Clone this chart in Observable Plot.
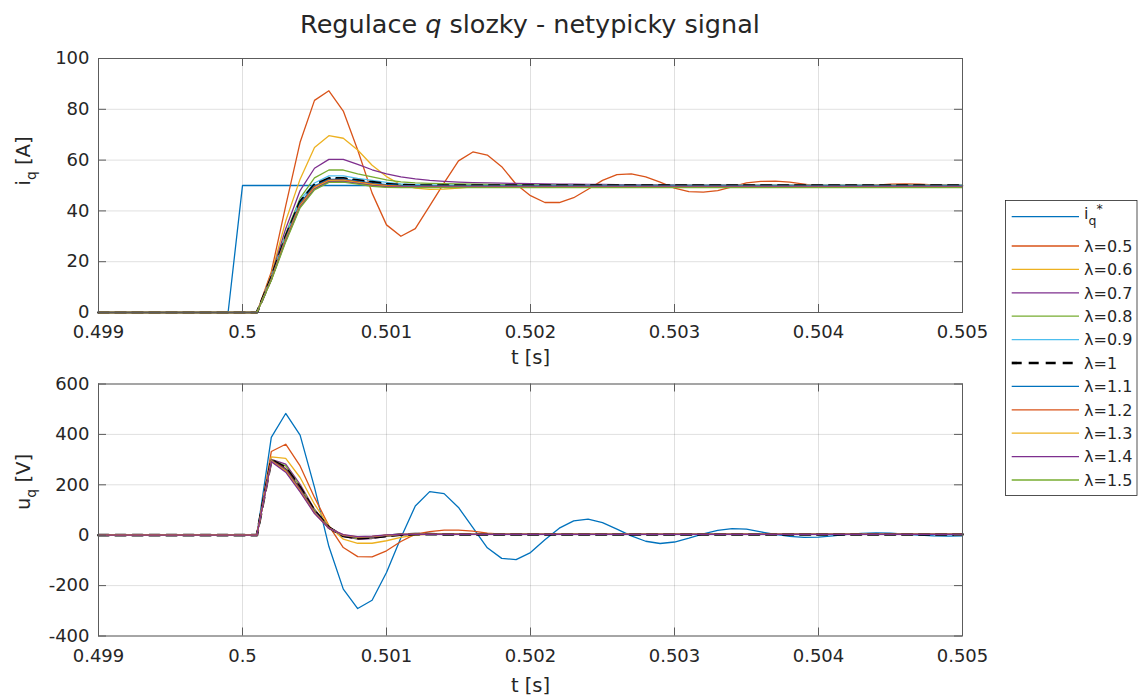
<!DOCTYPE html>
<html><head><meta charset="utf-8">
<script src="https://cdn.jsdelivr.net/npm/d3@7"></script>
<script src="https://cdn.jsdelivr.net/npm/@observablehq/plot@0.6"></script>
<style>
html,body{margin:0;padding:0;background:#fff;}
#wrap{position:relative;width:1141px;height:698px;font-family:"DejaVu Sans",sans-serif;color:#262626;overflow:hidden;}
#title{position:absolute;left:0;width:1060px;top:8px;text-align:center;font-size:25.5px;line-height:32px;white-space:nowrap;}
#top{position:absolute;left:0;top:40px;}
#bot{position:absolute;left:0;top:370px;}
#legend{position:absolute;left:1005px;top:200px;}
</style></head><body>
<div id="wrap">
<div id="title">Regulace <i>q</i> slozky - netypicky signal</div>
<div id="top"></div>
<div id="bot"></div>
<svg id="legend" width="133" height="297"></svg>
</div>
<script>
// ---- time samples [s] ----
const t = [0.499, 0.4999,
  0.5000, 0.5001, 0.5002, 0.5003, 0.5004, 0.5005, 0.5006, 0.5007, 0.5008, 0.5009,
  0.5010, 0.5011, 0.5012, 0.5013, 0.5014, 0.5015, 0.5016, 0.5017, 0.5018, 0.5019,
  0.5020, 0.5021, 0.5022, 0.5023, 0.5024, 0.5025, 0.5026, 0.5027, 0.5028, 0.5029,
  0.5030, 0.5031, 0.5032, 0.5033, 0.5034, 0.5035, 0.5036, 0.5037, 0.5038, 0.5039,
  0.5040, 0.5041, 0.5042, 0.5043, 0.5044, 0.5045, 0.5046, 0.5047, 0.5048, 0.5049,
  0.5050];

// ---- ticks ----
const xTicks = [0.499, 0.5, 0.501, 0.502, 0.503, 0.504, 0.505];
const xTickLabels = ["0.499", "0.5", "0.501", "0.502", "0.503", "0.504", "0.505"];
const iqTicks = [0, 20, 40, 60, 80, 100];
const iqTickLabels = ["0", "20", "40", "60", "80", "100"];
const uqTicks = [-400, -200, 0, 200, 400, 600];
const uqTickLabels = ["-400", "-200", "0", "200", "400", "600"];

// ---- legend labels ----
const legendLabels = ["iq*", "λ=0.5", "λ=0.6", "λ=0.7", "λ=0.8", "λ=0.9", "λ=1", "λ=1.1", "λ=1.2", "λ=1.3", "λ=1.4", "λ=1.5"];

// ---- i_q [A] ----
const iqRef = [0, 0,
  50,50,50,50,50,50,50,50,50,50,
  50,50,50,50,50,50,50,50,50,50,
  50,50,50,50,50,50,50,50,50,50,
  50,50,50,50,50,50,50,50,50,50,
  50,50,50,50,50,50,50,50,50,50,
  50];
const iq05 = [0, 0,
  0,0,16,42,67,83.5,87.3,79.3,64,47,
  34.5,30,33,42,51,59.7,63.2,62,57.4,50.5,
  46,43.3,43.3,45.2,48.5,52,54.3,54.6,53.4,51.3,
  49,47.6,47.4,48,49.5,51,51.6,51.7,51.3,50.5,
  49.7,49.3,49.3,49.6,50.1,50.5,50.6,50.5,50.2,50,
  49.9];
const iq06 = [0, 0,
  0,0,15,36,52.5,65,69.6,68.6,64,58,
  53.5,50.3,49,48.5,48.6,49,49.5,49.8,50,50.1,
  50.1,50.1,50,50,50,50,50,50,50,50,
  50,50,50,50,50,50,50,50,50,50,
  50,50,50,50,50,50,50,50,50,50,
  50];
const iq07 = [0, 0,
  0,0,14.5,33,48,56.8,60.3,60.3,58.3,56.2,
  54.6,53.4,52.6,52,51.6,51.3,51.1,51,50.9,50.8,
  50.7,50.6,50.5,50.5,50.4,50.4,50.3,50.3,50.2,50.2,
  50.2,50.1,50.1,50.1,50.1,50,50,50,50,50,
  50,50,50,50,50,50,50,50,50,50,
  50];
const iq08 = [0, 0,
  0,0,14,31,45,53,56.1,56.1,54.6,53.4,
  52.2,51.4,51,50.8,50.7,50.6,50.5,50.4,50.3,50.2,
  50.2,50.1,50.1,50,50,50,50,50,50,50,
  50,50,50,50,50,50,50,50,50,50,
  50,50,50,50,50,50,50,50,50,50,
  50];
const iq09 = [0, 0,
  0,0,13.8,30.3,44.3,51,53.8,53.8,52.8,52,
  51.2,50.6,50.3,50.1,50,50,50,50,50,50,
  50,50,50,50,50,50,50,50,50,50,
  50,50,50,50,50,50,50,50,50,50,
  50,50,50,50,50,50,50,50,50,50,
  50];
const iq10 = [0, 0,
  0,0,13.6,29.8,43.6,50.3,52.8,52.8,52,51.3,
  50.6,50.2,50,50,50,50,50,50,50,50,
  50,50,50,50,50,50,50,50,50,50,
  50,50,50,50,50,50,50,50,50,50,
  50,50,50,50,50,50,50,50,50,50,
  50];
const iq11 = [0, 0,
  0,0,13.4,29.4,43,49.9,52.4,52.5,51.7,50.9,
  50.3,50,49.9,49.8,49.8,49.8,49.8,49.8,49.8,49.8,
  49.8,49.8,49.8,49.8,49.8,49.8,49.8,49.8,49.8,49.8,
  49.8,49.8,49.8,49.8,49.8,49.8,49.8,49.8,49.8,49.8,
  49.8,49.8,49.8,49.8,49.8,49.8,49.8,49.8,49.8,49.8,
  49.8];
const iq12 = [0, 0,
  0,0,13.2,29,42.5,49.5,52.1,52.2,51.4,50.6,
  50,49.7,49.6,49.6,49.6,49.6,49.6,49.6,49.6,49.6,
  49.6,49.6,49.6,49.6,49.6,49.6,49.6,49.6,49.6,49.6,
  49.6,49.6,49.6,49.6,49.6,49.6,49.6,49.6,49.6,49.6,
  49.6,49.6,49.6,49.6,49.6,49.6,49.6,49.6,49.6,49.6,
  49.6];
const iq13 = [0, 0,
  0,0,13,28.6,42,49.1,51.8,51.9,51.1,50.3,
  49.7,49.5,49.5,49.5,49.5,49.5,49.5,49.5,49.5,49.5,
  49.5,49.5,49.5,49.5,49.5,49.5,49.5,49.5,49.5,49.5,
  49.5,49.5,49.5,49.5,49.5,49.5,49.5,49.5,49.5,49.5,
  49.5,49.5,49.5,49.5,49.5,49.5,49.5,49.5,49.5,49.5,
  49.5];
const iq14 = [0, 0,
  0,0,12.8,28.2,41.6,48.7,51.5,51.6,50.8,50,
  49.5,49.4,49.4,49.4,49.4,49.4,49.4,49.4,49.4,49.4,
  49.4,49.4,49.4,49.4,49.4,49.4,49.4,49.4,49.4,49.4,
  49.4,49.4,49.4,49.4,49.4,49.4,49.4,49.4,49.4,49.4,
  49.4,49.4,49.4,49.4,49.4,49.4,49.4,49.4,49.4,49.4,
  49.4];
const iq15 = [0, 0,
  0,0,12.6,27.8,41.2,48.3,51.2,51.3,50.5,49.7,
  49.3,49.2,49.2,49.2,49.2,49.2,49.2,49.2,49.2,49.2,
  49.2,49.2,49.2,49.2,49.2,49.2,49.2,49.2,49.2,49.2,
  49.2,49.2,49.2,49.2,49.2,49.2,49.2,49.2,49.2,49.2,
  49.2,49.2,49.2,49.2,49.2,49.2,49.2,49.2,49.2,49.2,
  49.2];

// ---- u_q [V] ----
const uq05 = [0, 0,
  0,0,388,483,397,190,-45,-214,-291,-258,
  -148,-10,116,173,165,110,30,-50,-92,-97,
  -69,-18,28,57,64,50,24,-3,-24,-33,
  -27,-12,5,19,26,24,13,3,-5,-9,
  -8,-3,3,7.5,9,8,4,0,-3,-4,
  -3];
const uq06 = [0, 0,
  0,0,332,361,275,150,37,-49,-85,-86,
  -62,-25,4,14.5,20,20,16,8,4,3,
  3,3,3,3,3,3,3,3,3,3,
  3,3,3,3,3,3,3,3,3,3,
  3,3,3,3,3,3,3,3,3,3,
  3];
const uq07 = [0, 0,
  0,0,311,305,229,123,37,-16,-32,-32,
  -22,-9,0,4,5,5,4,3,3,3,
  3,3,3,3,3,3,3,3,3,3,
  3,3,3,3,3,3,3,3,3,3,
  3,3,3,3,3,3,3,3,3,3,
  3];
const uq08 = [0, 0,
  0,0,301,282,202,103,33,-5,-16,-13,
  -5,0,3,4,4,3.5,3,3,3,3,
  3,3,3,3,3,3,3,3,3,3,
  3,3,3,3,3,3,3,3,3,3,
  3,3,3,3,3,3,3,3,3,3,
  3];
const uq09 = [0, 0,
  0,0,299,275,195,100,31,-4,-14,-11,
  -4,1,3,4,4,3.5,3,3,3,3,
  3,3,3,3,3,3,3,3,3,3,
  3,3,3,3,3,3,3,3,3,3,
  3,3,3,3,3,3,3,3,3,3,
  3];
const uq10 = [0, 0,
  0,0,298,268,189,97,30,-3,-12,-9,
  -3,2,4,4,3.5,3,3,3,3,3,
  3,3,3,3,3,3,3,3,3,3,
  3,3,3,3,3,3,3,3,3,3,
  3,3,3,3,3,3,3,3,3,3,
  3];
const uq11 = [0, 0,
  0,0,297,264,185,94,29,-2,-10,-8,
  -2,2.5,4,4,3.5,3,3,3,3,3,
  3,3,3,3,3,3,3,3,3,3,
  3,3,3,3,3,3,3,3,3,3,
  3,3,3,3,3,3,3,3,3,3,
  3];
const uq12 = [0, 0,
  0,0,296,260,181,92,28,-1,-9,-7,
  -1,3,4,3.5,3,3,3,3,3,3,
  3,3,3,3,3,3,3,3,3,3,
  3,3,3,3,3,3,3,3,3,3,
  3,3,3,3,3,3,3,3,3,3,
  3];
const uq13 = [0, 0,
  0,0,295,257,178,90,28,0,-8,-6,
  0,3,4,3.5,3,3,3,3,3,3,
  3,3,3,3,3,3,3,3,3,3,
  3,3,3,3,3,3,3,3,3,3,
  3,3,3,3,3,3,3,3,3,3,
  3];
const uq14 = [0, 0,
  0,0,294,254,175,88,27,1,-7,-5,
  0.5,3,3.5,3,3,3,3,3,3,3,
  3,3,3,3,3,3,3,3,3,3,
  3,3,3,3,3,3,3,3,3,3,
  3,3,3,3,3,3,3,3,3,3,
  3];
const uq15 = [0, 0,
  0,0,292,250,172,86,27,2,-6,-4,
  1,3,3.5,3,3,3,3,3,3,3,
  3,3,3,3,3,3,3,3,3,3,
  3,3,3,3,3,3,3,3,3,3,
  3,3,3,3,3,3,3,3,3,3,
  3];

// ---- styles (MATLAB default colour order) ----
const C = {blue: "#0072BD", orange: "#D95319", yellow: "#EDB120", purple: "#7E2F8E", green: "#77AC30", cyan: "#4DBEEE", darkred: "#A2142F", black: "#000000"};
const topSeries = [iqRef, iq05, iq06, iq07, iq08, iq09, iq10, iq11, iq12, iq13, iq14, iq15];
const topColors = [C.blue, C.orange, C.yellow, C.purple, C.green, C.cyan, C.black, C.blue, C.orange, C.yellow, C.purple, C.green];
const topDashed = [false, false, false, false, false, false, true, false, false, false, false, false];
const botSeries = [uq05, uq06, uq07, uq08, uq09, uq10, uq11, uq12, uq13, uq14, uq15];
const botColors = [C.blue, C.orange, C.yellow, C.purple, C.green, C.black, C.darkred, C.blue, C.orange, C.yellow, C.purple];
const botDashed = [false, false, false, false, false, true, false, false, false, false, false];

const AX = "#5c5c5c", TXT = "#262626";
const LW = 1.3, DLW = 2.7, DASH = "10,7";

function panel({series, colors, dashed, yDomain, yTicks, yTickLabels, yLabel, height, mt, mb, xlabDy}) {
  const W = 1141, ML = 98, MR = 179;
  const innerW = W - ML - MR, innerH = height - mt - mb;
  const marks = [
    Plot.gridX(xTicks, {x: d => d, stroke: TXT, strokeOpacity: 0.14, strokeWidth: 1}),
    Plot.gridY(yTicks, {y: d => d, stroke: TXT, strokeOpacity: 0.14, strokeWidth: 1})
  ];
  series.forEach((vals, i) => {
    const rows = t.map((tt, j) => ({t: tt, v: vals[j]}));
    marks.push(Plot.line(rows, {
      x: "t", y: "v", stroke: colors[i],
      strokeWidth: dashed[i] ? DLW : LW,
      strokeDasharray: dashed[i] ? DASH : undefined
    }));
  });
  marks.push(
    Plot.frame({stroke: AX, strokeWidth: 1}),
    Plot.tickX(xTicks, {x: d => d, stroke: AX, insetTop: innerH - 8}),
    Plot.tickX(xTicks, {x: d => d, stroke: AX, insetBottom: innerH - 8}),
    Plot.tickY(yTicks, {y: d => d, stroke: AX, insetRight: innerW - 8}),
    Plot.tickY(yTicks, {y: d => d, stroke: AX, insetLeft: innerW - 8}),
    Plot.axisX(xTicks, {tickSize: 0, tickPadding: 13, tickFormat: d => xTickLabels[xTicks.indexOf(d)], label: null, fill: TXT}),
    Plot.axisY(yTicks, {tickSize: 0, tickPadding: 9, tickFormat: d => yTickLabels[yTicks.indexOf(d)], label: null, fill: TXT}),
    Plot.text(["t [s]"], {text: d => d, frameAnchor: "bottom", dy: xlabDy, fontSize: 19.5, fill: TXT}),
    Plot.text([yLabel], {text: d => d, frameAnchor: "left", dx: -75, rotate: -90, fontSize: 19.5, fill: TXT})
  );
  const svg = Plot.plot({
    width: W, height, marginLeft: ML, marginRight: MR, marginTop: mt, marginBottom: mb,
    x: {type: "linear", domain: [0.499, 0.505]},
    y: {type: "linear", domain: yDomain},
    style: {fontFamily: "DejaVu Sans, sans-serif", fontSize: "18px", color: TXT, background: "transparent", overflow: "visible"},
    marks
  });
  // subscript in the y label
  d3.select(svg).selectAll("text").each(function() {
    if (this.textContent === yLabel) {
      const sel = d3.select(this);
      sel.text(null);
      sel.append("tspan").text(yLabel[0]);
      sel.append("tspan").attr("dy", 6).attr("font-size", 14).text("q");
      sel.append("tspan").attr("dy", -6).text(yLabel.slice(2));
    }
  });
  return svg;
}

document.getElementById("top").appendChild(panel({
  series: topSeries, colors: topColors, dashed: topDashed,
  yDomain: [0, 100], yTicks: iqTicks, yTickLabels: iqTickLabels, yLabel: "iq [A]",
  height: 330, mt: 18, mb: 58, xlabDy: 51
}));
document.getElementById("bot").appendChild(panel({
  series: botSeries, colors: botColors, dashed: botDashed,
  yDomain: [-400, 600], yTicks: uqTicks, yTickLabels: uqTickLabels, yLabel: "uq [V]",
  height: 328, mt: 13.5, mb: 62.5, xlabDy: 56
}));

// ---- legend ----
const lg = d3.select("#legend");
lg.append("rect").attr("x", 0.5).attr("y", 0.5).attr("width", 131.5).attr("height", 295)
  .attr("fill", "#fff").attr("stroke", TXT).attr("stroke-width", 0.8);
legendLabels.forEach((lab, i) => {
  const y = i === 0 ? 16.7 : 46 + (i - 1) * 23.4;
  lg.append("line").attr("x1", 6.7).attr("x2", 74).attr("y1", y).attr("y2", y)
    .attr("stroke", topColors[i]).attr("stroke-width", topDashed[i] ? DLW : LW)
    .attr("stroke-dasharray", topDashed[i] ? DASH : null);
  const tx = lg.append("text").attr("x", 79).attr("y", y).attr("dy", "0.36em")
    .attr("font-family", "DejaVu Sans, sans-serif").attr("font-size", 16).attr("fill", TXT);
  if (i === 0) {
    tx.attr("y", y - 3);
    tx.append("tspan").text(lab[0]);
    tx.append("tspan").attr("dy", 6).attr("font-size", 12.5).text(lab[1]);
    tx.append("tspan").attr("dy", -12).attr("font-size", 12.5).text(lab[2]);
  } else {
    tx.text(lab);
  }
});
</script>
</body></html>
